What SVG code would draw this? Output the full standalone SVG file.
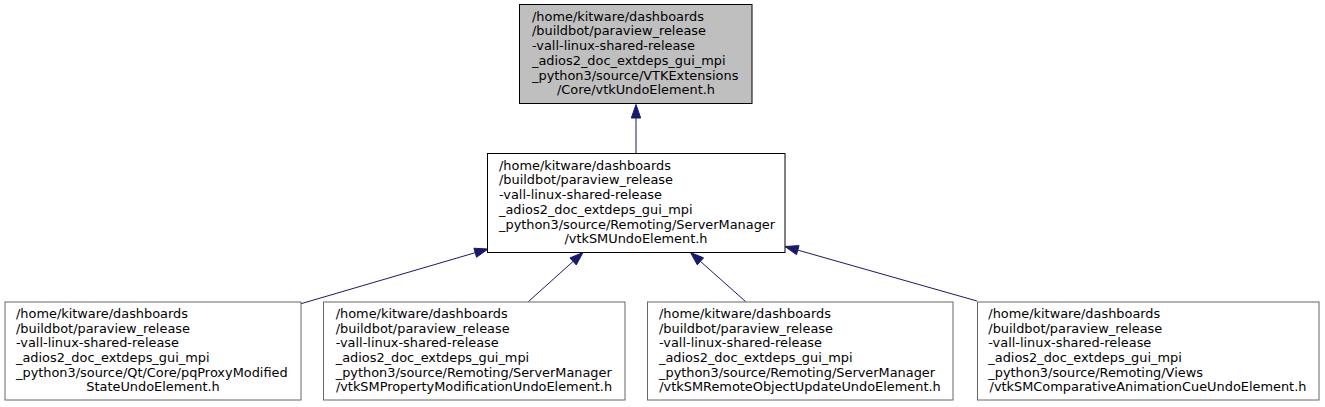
<svg xmlns="http://www.w3.org/2000/svg" width="1325" height="407" viewBox="0 0 1325 407">
<style>
text{font-family:"DejaVu Sans","Liberation Sans",sans-serif;font-size:12.9px;fill:#000}
.c{text-anchor:middle}
.box{fill:#fff;stroke:#000;stroke-width:1}
.leaf{fill:#fff;stroke:#666;stroke-width:1}
.root{fill:#bfbfbf;stroke:#000;stroke-width:1}
.edge line{stroke:#191970;stroke-width:1}
.edge polygon{fill:#191970;stroke:#191970;stroke-width:1}
</style>
<rect width="1325" height="407" fill="#fff"/>
<g id="connectors" class="edge">
<line x1="636" y1="153" x2="636" y2="118"/>
<polygon points="636,104.5 631.3,118 640.7,118"/>
<line x1="300" y1="304" x2="475.2" y2="252.7"/>
<polygon points="488,249 476.55,257.24 473.91,248.22"/>
<line x1="528.5" y1="301.5" x2="573.1" y2="261.4"/>
<polygon points="583,252.5 576.25,264.88 569.97,257.9"/>
<line x1="745.5" y1="301.5" x2="700.4" y2="261.35"/>
<polygon points="690.5,252.5 703.56,257.84 697.3,264.86"/>
<line x1="977" y1="301" x2="797.8" y2="250.1"/>
<polygon points="785,246.5 799.07,245.61 796.51,254.65"/>
</g>
<g id="node_root">
<rect class="root" x="519.5" y="4.5" width="232.5" height="99"/>
<text x="532" y="20.7">/home/kitware/dashboards</text>
<text x="532" y="35.4">/buildbot/paraview_release</text>
<text x="532" y="50.1">-vall-linux-shared-release</text>
<text x="532" y="64.8">_adios2_doc_extdeps_gui_mpi</text>
<text x="532" y="79.5">_python3/source/VTKExtensions</text>
<text class="c" x="636" y="94.2">/Core/vtkUndoElement.h</text>
</g>
<g id="node_sm">
<rect class="box" x="487.5" y="153.5" width="297.5" height="99"/>
<text x="499" y="169.7">/home/kitware/dashboards</text>
<text x="499" y="184.4">/buildbot/paraview_release</text>
<text x="499" y="199.1">-vall-linux-shared-release</text>
<text x="499" y="213.8">_adios2_doc_extdeps_gui_mpi</text>
<text x="499" y="228.5">_python3/source/Remoting/ServerManager</text>
<text class="c" x="636" y="243.2">/vtkSMUndoElement.h</text>
</g>
<g id="node_pq">
<rect class="leaf" x="5" y="302" width="296" height="98"/>
<text x="16" y="317.8">/home/kitware/dashboards</text>
<text x="16" y="332.5">/buildbot/paraview_release</text>
<text x="16" y="347.2">-vall-linux-shared-release</text>
<text x="16" y="361.9">_adios2_doc_extdeps_gui_mpi</text>
<text x="16" y="376.6">_python3/source/Qt/Core/pqProxyModified</text>
<text class="c" x="153" y="391.3">StateUndoElement.h</text>
</g>
<g id="node_prop">
<rect class="leaf" x="323.5" y="302" width="301.5" height="98"/>
<text x="335.7" y="317.8">/home/kitware/dashboards</text>
<text x="335.7" y="332.5">/buildbot/paraview_release</text>
<text x="335.7" y="347.2">-vall-linux-shared-release</text>
<text x="335.7" y="361.9">_adios2_doc_extdeps_gui_mpi</text>
<text x="335.7" y="376.6">_python3/source/Remoting/ServerManager</text>
<text class="c" x="474" y="391.3">/vtkSMPropertyModificationUndoElement.h</text>
</g>
<g id="node_remote">
<rect class="leaf" x="647.5" y="302" width="305.5" height="98"/>
<text x="659" y="317.8">/home/kitware/dashboards</text>
<text x="659" y="332.5">/buildbot/paraview_release</text>
<text x="659" y="347.2">-vall-linux-shared-release</text>
<text x="659" y="361.9">_adios2_doc_extdeps_gui_mpi</text>
<text x="659" y="376.6">_python3/source/Remoting/ServerManager</text>
<text class="c" x="800" y="391.3">/vtkSMRemoteObjectUpdateUndoElement.h</text>
</g>
<g id="node_comp">
<rect class="leaf" x="977.5" y="302" width="341.5" height="98"/>
<text x="988.3" y="317.8">/home/kitware/dashboards</text>
<text x="988.3" y="332.5">/buildbot/paraview_release</text>
<text x="988.3" y="347.2">-vall-linux-shared-release</text>
<text x="988.3" y="361.9">_adios2_doc_extdeps_gui_mpi</text>
<text x="988.3" y="376.6">_python3/source/Remoting/Views</text>
<text class="c" x="1148" y="391.3">/vtkSMComparativeAnimationCueUndoElement.h</text>
</g>
</svg>
